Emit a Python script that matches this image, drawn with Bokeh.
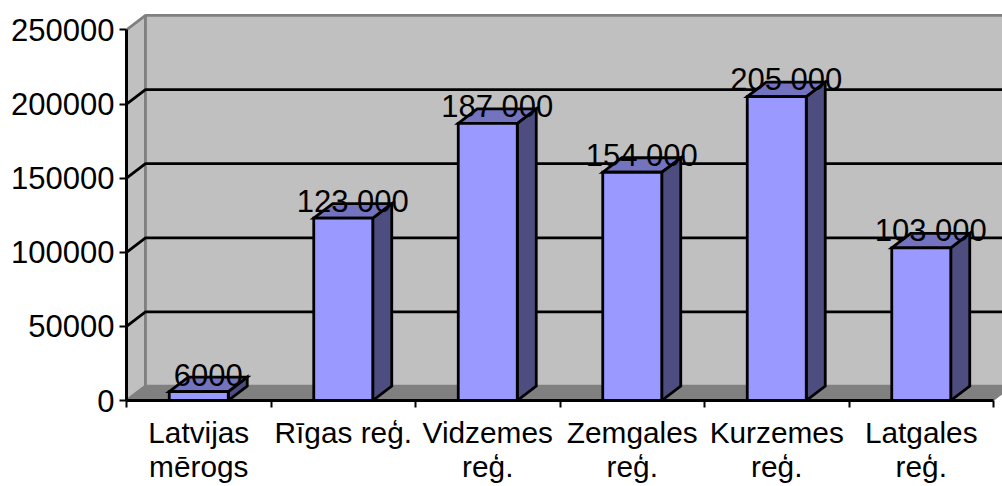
from bokeh.plotting import figure
from bokeh.models import FixedTicker, Range1d, ColumnDataSource
from bokeh.core.properties import value
from bokeh.embed import file_html
from bokeh.resources import INLINE

categories = ["Latvijas\nmērogs", "Rīgas reģ.", "Vidzemes\nreģ.", "Zemgales\nreģ.", "Kurzemes\nreģ.", "Latgales\nreģ."]
values = [6000, 123000, 187000, 154000, 205000, 103000]
value_labels = ["6000", "123 000", "187 000", "154 000", "205 000", "103 000"]
y_ticks = [0, 50000, 100000, 150000, 200000, 250000]

FONT = "Liberation Sans"
W, H = 1002, 486
LEFT, BOTTOM = 126, 85
n = len(categories)
XMAX = (W - LEFT) / 144.5
YMAX = (H - BOTTOM) / 371.5 * 250000
DX = 19 / 144.5
DY = 14.5 / 371.5 * 250000
BW = 59 / 144.5
TOP = y_ticks[-1]
LW = 2.8

p = figure(width=W, height=H, output_backend="svg", toolbar_location=None,
           x_range=Range1d(0, XMAX), y_range=Range1d(0, YMAX),
           min_border_left=LEFT, min_border_bottom=BOTTOM, min_border_top=0, min_border_right=0,
           outline_line_color=None, background_fill_color="white", border_fill_color="white")
p.grid.visible = False

WALL, EDGE = "#C0C0C0", "#808080"
# walls
p.patch([0, DX, DX, 0], [0, DY, TOP + DY, TOP], fill_color=WALL, line_color=EDGE, line_width=LW)
p.patch([DX, n + DX, n + DX, DX], [DY, DY, TOP + DY, TOP + DY], fill_color=WALL, line_color=EDGE, line_width=LW)
# floor
p.patch([0, n, n + DX, DX], [0, 0, DY, DY], fill_color=EDGE, line_color=EDGE, line_width=1)
# grid lines
for t in y_ticks[1:-1]:
    p.line([0, DX, n + DX], [t, t + DY, t + DY], line_color="black", line_width=LW)

# bars
for i, v in enumerate(values):
    cx = i + 0.5
    l, r = cx - BW / 2, cx + BW / 2
    p.patch([r, r + DX, r + DX, r], [0, DY, v + DY, v], fill_color="#4D4D80", line_color="black", line_width=LW, line_join="miter")
    p.patch([l, r, r + DX, l + DX], [v, v, v + DY, v + DY], fill_color="#7373BF", line_color="black", line_width=LW, line_join="miter")
    p.patch([l, r, r, l], [0, 0, v, v], fill_color="#9999FF", line_color="black", line_width=LW, line_join="miter")

src = ColumnDataSource(dict(x=[i + 0.5 + DX / 2 for i in range(n)], y=[v + DY for v in values], t=value_labels))
p.text("x", "y", text="t", source=src, text_font=value(FONT), text_font_size=value("31px"),
       text_color="black", text_align="center", text_baseline="middle", y_offset=-2.5)

ax = p.xaxis[0]
ax.ticker = FixedTicker(ticks=[i + 0.5 for i in range(n)], minor_ticks=list(range(n + 1)))
ax.major_label_overrides = {i + 0.5: c for i, c in enumerate(categories)}
ax.major_tick_out = 0
ax.major_tick_in = 0
ax.minor_tick_out = 7
ax.minor_tick_in = 0
ax.minor_tick_line_width = 2
ax.minor_tick_line_color = "black"
ax.axis_line_width = 3
ax.axis_line_color = "black"
ax.bounds = (0, n)
ax.major_label_text_font = FONT
ax.major_label_text_font_size = "29.8px"
ax.major_label_text_color = "black"
ax.major_label_text_line_height = 1.05
ax.major_label_standoff = 8
ax.major_label_orientation = "horizontal"

ay = p.yaxis[0]
ay.ticker = FixedTicker(ticks=y_ticks)
ay.major_label_overrides = {t: str(t) for t in y_ticks}
ay.major_tick_out = 7
ay.major_tick_in = 0
ay.major_tick_line_width = 2
ay.major_tick_line_color = "black"
ay.minor_tick_line_color = None
ay.axis_line_width = 3
ay.axis_line_color = "black"
ay.bounds = (0, TOP)
ay.major_label_text_font = FONT
ay.major_label_text_font_size = "31px"
ay.major_label_text_color = "black"
ay.major_label_standoff = 5

open("out.html", "w").write(file_html(p, INLINE))
